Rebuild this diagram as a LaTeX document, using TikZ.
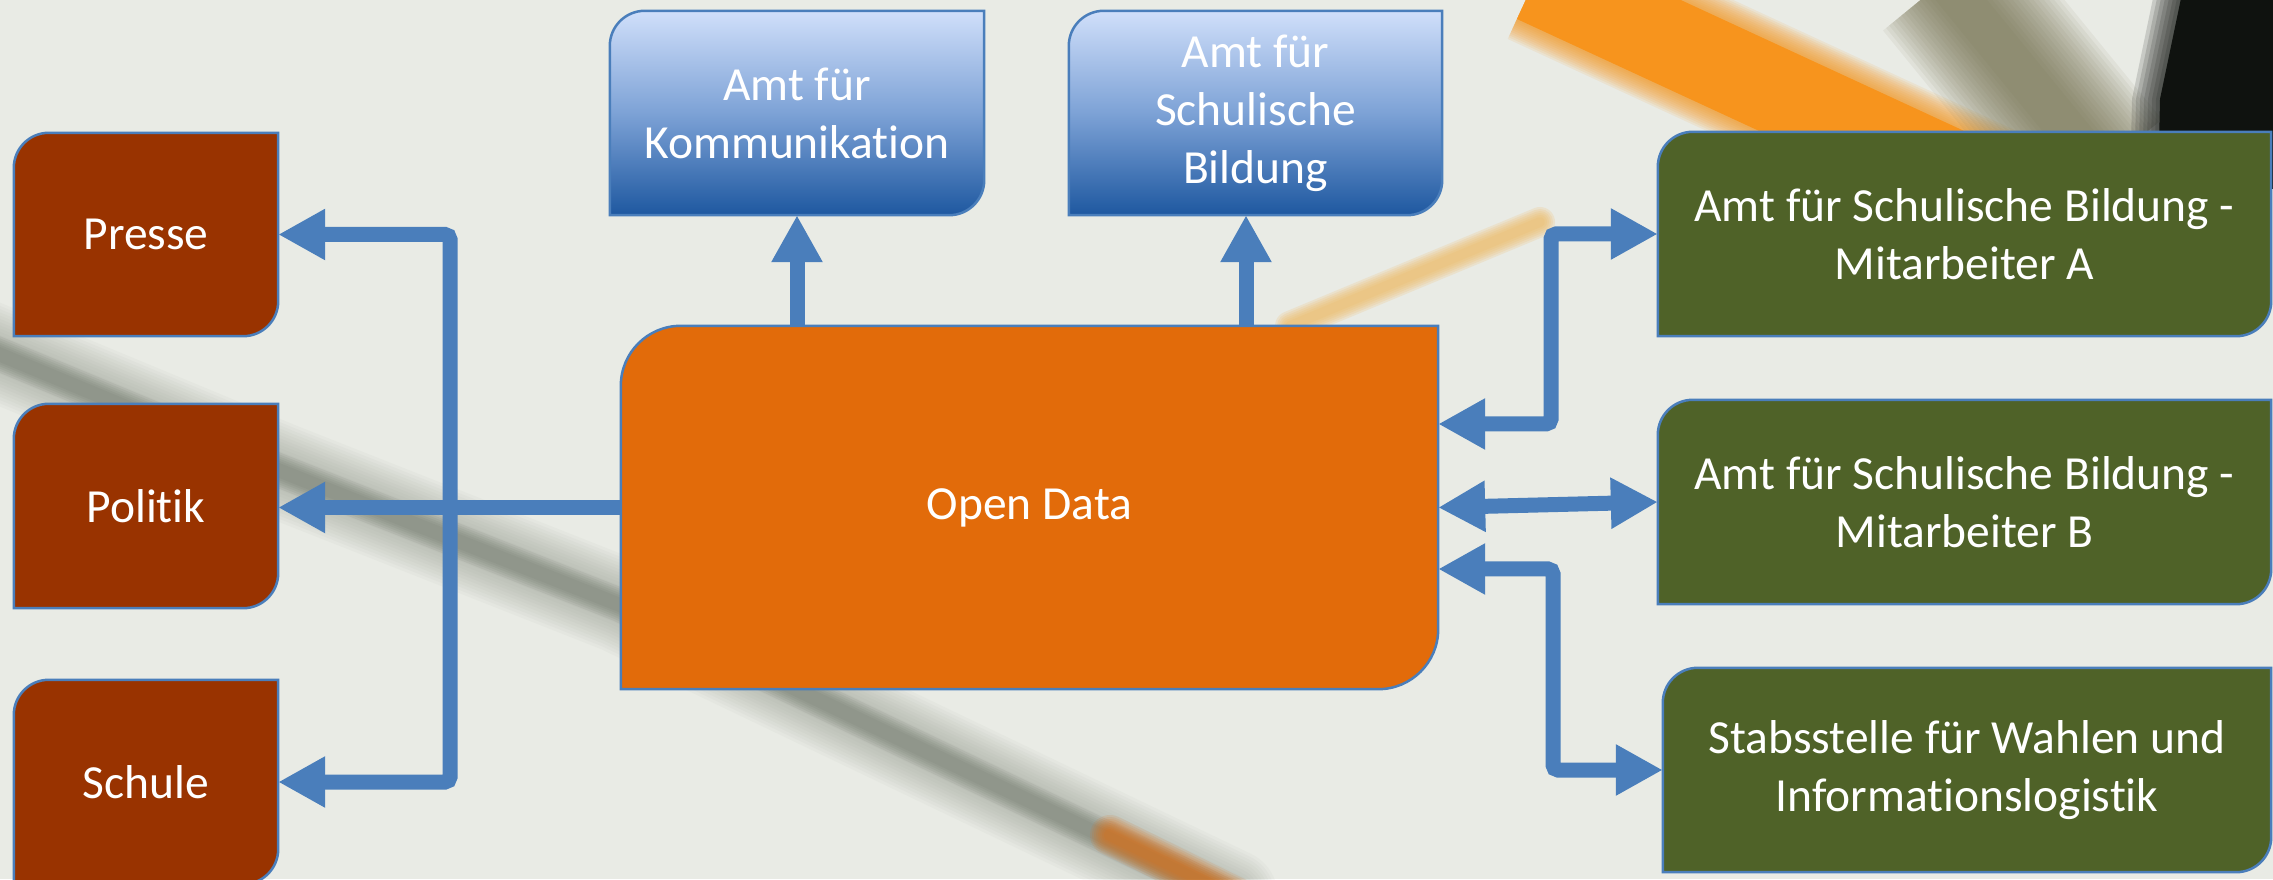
\documentclass[tikz,border=0pt]{standalone}
\usepackage{fontspec}
\setmainfont{Carlito}[Ligatures=NoCommon, Contextuals=NoAlternate]
\usetikzlibrary{arrows.meta,calc}
\definecolor{bgbase}{RGB}{233,235,229}
\definecolor{greyband}{RGB}{140,150,135}
\definecolor{greycore}{RGB}{110,118,105}
\definecolor{streakorange}{RGB}{247,148,29}
\definecolor{lightorange}{RGB}{240,185,95}
\definecolor{olivegrey}{RGB}{110,105,70}
\definecolor{darkpen}{RGB}{15,18,15}
\definecolor{brownbox}{RGB}{153,51,0}
\definecolor{odorange}{RGB}{226,107,10}
\definecolor{greenbox}{RGB}{79,98,40}
\definecolor{edgeblue}{RGB}{74,126,187}
\definecolor{arrowblue}{RGB}{74,126,187}
\definecolor{bluetop}{RGB}{208,223,250}
\definecolor{bluemid}{RGB}{125,162,214}
\definecolor{bluebot}{RGB}{30,88,160}
\pgfdeclarelayer{photo}
\pgfdeclarelayer{boxes}
\pgfsetlayers{photo,boxes,main}
\newcommand\diagshape[3]{%
  \path[#2] (#1.south west) -- ([yshift=-#3]#1.north west)
    arc[start angle=180,end angle=90,radius=#3] -- (#1.north east)
    -- ([yshift=#3]#1.south east)
    arc[start angle=0,end angle=-90,radius=#3] -- cycle;}
\begin{document}
\begin{tikzpicture}[x=1pt,y=1pt,
  lbl/.style={inner sep=0pt, text=white, align=center,
    font=\fontsize{47.5}{58}\selectfont},
  conn/.style={draw=arrowblue, line width=15pt, rounded corners=5pt},
  >={Triangle[length=47pt,width=48pt]},
  boxedge/.style={draw=edgeblue, line width=2.5pt},
  soft/.style={line cap=round, line join=round}]
\useasboundingbox (0,0) rectangle (2273,879);

% ---------- photo-like background ----------
\begin{pgfonlayer}{photo}
\fill[bgbase] (0,0) rectangle (2273,879);
% grey diagonal band: soft halo and darker core
\foreach \w in {96,90,...,36}
  \draw[soft, line width=\w pt, draw=greyband, opacity=0.05]
    (-40,541) -- (278,409) -- (620,274) -- (1230,-18);
\foreach \w in {34,30,...,14}
  \draw[soft, line width=\w pt, draw=greycore, opacity=0.12]
    (-40,541) -- (278,409) -- (620,274) -- (1230,-18);
% orange tip of the band at the bottom
\foreach \w in {40,36,...,12}
  \draw[soft, line width=\w pt, draw=odorange, opacity=0.12]
    (1110,44) -- (1240,-20);
% orange band top right
\foreach \w in {130,126,...,88}
  \draw[line width=\w pt, draw=streakorange, opacity=0.1]
    (1535,899) -- (2011,679);
\draw[line width=86pt, draw=streakorange] (1535,899) -- (2011,679);
% olive band
\foreach \w in {160,152,...,40}
  \draw[line width=\w pt, draw=olivegrey, opacity=0.07]
    (1945,899) -- (2100,709);
% dark pen at the top right corner
\foreach \d in {28,24,...,4}
  \fill[darkpen, opacity=0.15]
    (2185-\d,900) -- (2160-\d,780) -- (2158-\d,690) -- (2330,690) -- (2330,900) -- cycle;
\fill[darkpen] (2185,900) -- (2160,780) -- (2158,690) -- (2330,690) -- (2330,900) -- cycle;
% thin light orange streak
\foreach \w in {30,26,...,10}
  \draw[soft, line width=\w pt, draw=lightorange, opacity=0.18]
    (1290,553) -- (1540,657);
\end{pgfonlayer}

% ---------- nodes ----------
\node[lbl, minimum width=264pt, minimum height=203pt] (presse) at (146,644.5) {Presse};
\node[lbl, minimum width=264pt, minimum height=204pt] (politik) at (146,373) {Politik};
\node[lbl, minimum width=264pt, minimum height=204pt] (schule) at (146,97) {Schule};
\node[lbl, minimum width=374pt, minimum height=204pt] (komm) at (797,766) {Amt für\\Kommunikation};
\node[lbl, minimum width=373pt, minimum height=204pt] (schul) at (1255.5,766) {Amt für\\Schulische\\Bildung};
\node[lbl, minimum width=817pt, minimum height=363pt] (od) at (1029.5,371.5) {Open Data};
\node[lbl, minimum width=613pt, minimum height=204pt] (ga) at (1964.5,645) {Amt für Schulische Bildung -\\Mitarbeiter A};
\node[lbl, minimum width=613pt, minimum height=204pt] (gb) at (1964.5,377) {Amt für Schulische Bildung -\\Mitarbeiter B};
\node[lbl, minimum width=608pt, minimum height=204pt] (gs) at (1967,109) {Stabsstelle für Wahlen und\\Informationslogistik};

\begin{pgfonlayer}{boxes}
\diagshape{presse}{fill=brownbox, boxedge}{35pt}
\diagshape{politik}{fill=brownbox, boxedge}{35pt}
\diagshape{schule}{fill=brownbox, boxedge}{35pt}
\diagshape{komm}{top color=bluetop, bottom color=bluebot, middle color=bluemid, boxedge}{35pt}
\diagshape{schul}{top color=bluetop, bottom color=bluebot, middle color=bluemid, boxedge}{35pt}
\diagshape{od}{fill=odorange, boxedge}{60pt}
\diagshape{ga}{fill=greenbox, boxedge}{35pt}
\diagshape{gb}{fill=greenbox, boxedge}{35pt}
\diagshape{gs}{fill=greenbox, boxedge}{35pt}
\end{pgfonlayer}

% ---------- connectors ----------
\coordinate (lbus) at (450,0);
\coordinate (rbusA) at (1551,0);
\coordinate (rbusS) at (1553,0);
\coordinate (odA) at ([yshift=83.5pt]od.east);
\coordinate (odS) at ([yshift=-61.5pt]od.east);
\coordinate (s2) at ([xshift=-9.5pt]schul.south);

\draw[conn,<->] (presse.east) -- (presse.east -| lbus) -- (schule.east -| lbus) -- (schule.east);
\draw[conn,->] (od.west) -- (od.west -| politik.east);
\draw[conn,->] (komm.south |- od.north) -- (komm.south);
\draw[conn,->] (s2 |- od.north) -- (s2);
\draw[conn,<->] (odA) -- (odA -| rbusA) -- (ga.west -| rbusA) -- (ga.west);
\draw[conn,<->] (od.east) -- (gb.west);
\draw[conn,<->] (odS) -- (odS -| rbusS) -- (gs.west -| rbusS) -- (gs.west);
\end{tikzpicture}
\end{document}
